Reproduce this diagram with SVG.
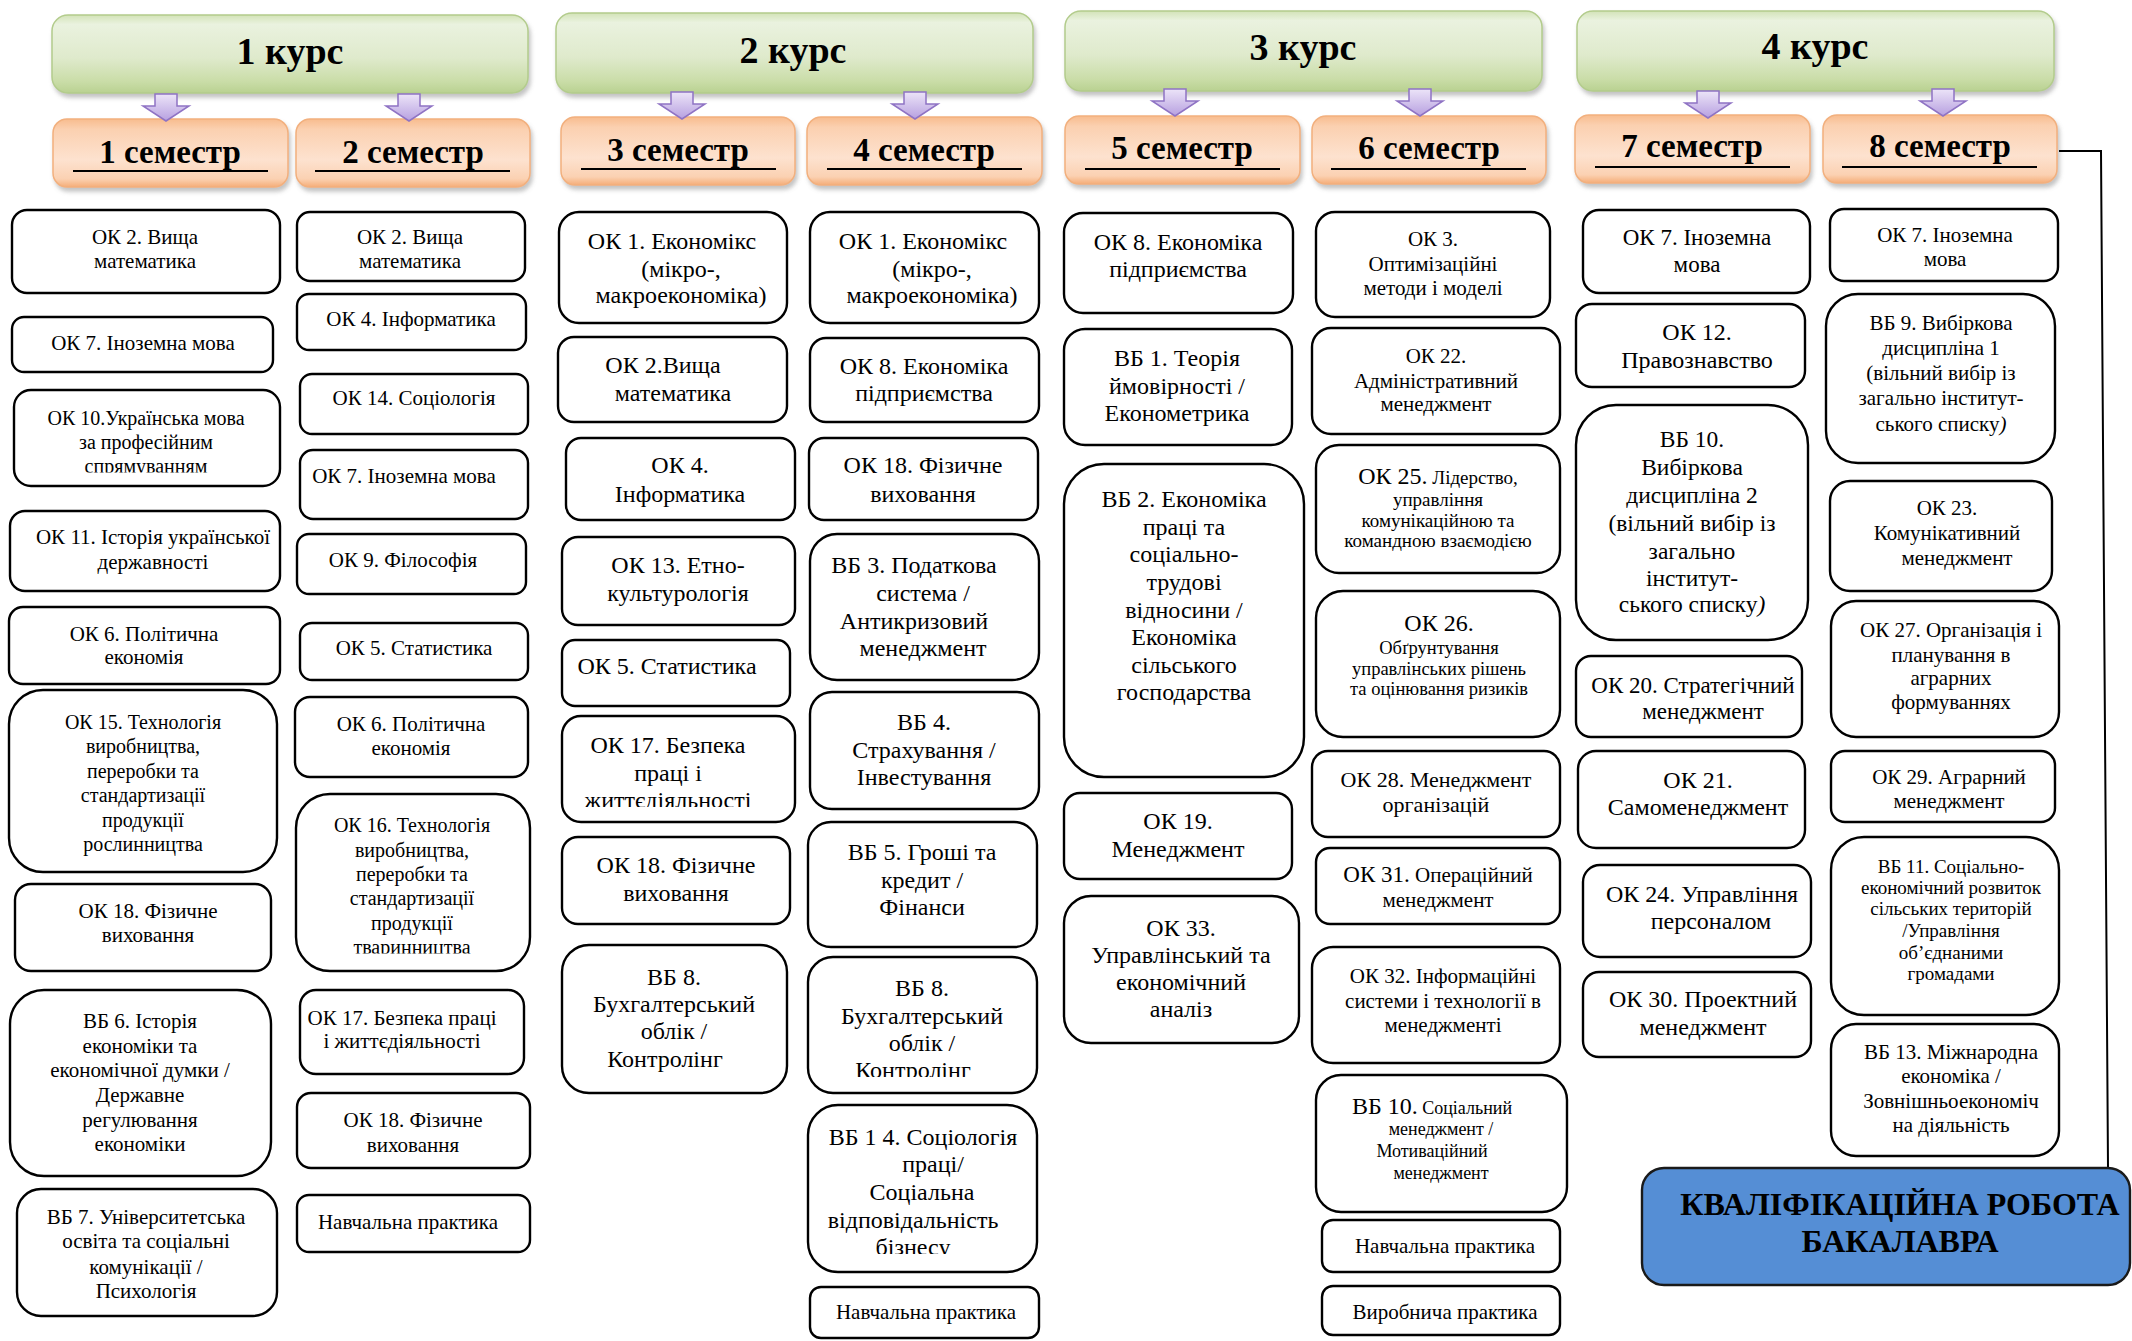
<svg xmlns="http://www.w3.org/2000/svg" width="2132" height="1341" viewBox="0 0 2132 1341">
<style>
.box{fill:#fff;stroke:#000;stroke-width:2.4}
.t{font-family:"Liberation Serif","Times New Roman",serif;fill:#000;text-anchor:middle}
.hc{font-family:"Liberation Serif","Times New Roman",serif;font-weight:bold;font-size:38px;text-anchor:middle;fill:#000}
.hs{font-family:"Liberation Serif","Times New Roman",serif;font-weight:bold;font-size:33px;text-anchor:middle;fill:#000}
.course{fill:url(#gGreen);stroke:#b3cc8c;stroke-width:1.5;filter:url(#sh)}
.sem{fill:url(#gOrange);stroke:#f2b07e;stroke-width:1.5;filter:url(#sh)}
.ul{stroke:#000;stroke-width:2}
.arr{fill:url(#gPurple);stroke:#8f73c4;stroke-width:1.5}
.con{fill:none;stroke:#000;stroke-width:2}
</style>
<defs>
<linearGradient id="gGreen" x1="0" y1="0" x2="0" y2="1">
<stop offset="0" stop-color="#d3e3b8"/><stop offset="0.12" stop-color="#eaf2df"/><stop offset="0.55" stop-color="#dfeacc"/><stop offset="0.85" stop-color="#cadda8"/><stop offset="1" stop-color="#b9d191"/>
</linearGradient>
<linearGradient id="gOrange" x1="0" y1="0" x2="0" y2="1">
<stop offset="0" stop-color="#f8bc8e"/><stop offset="0.15" stop-color="#fbd0b0"/><stop offset="0.6" stop-color="#fde2cf"/><stop offset="0.88" stop-color="#fbd1b2"/><stop offset="1" stop-color="#f5ad78"/>
</linearGradient>
<linearGradient id="gPurple" x1="0" y1="0" x2="0" y2="1">
<stop offset="0" stop-color="#ece4f8"/><stop offset="1" stop-color="#b7a0e0"/>
</linearGradient>
<filter id="sh" x="-5%" y="-10%" width="110%" height="130%">
<feDropShadow dx="2" dy="4" stdDeviation="2" flood-color="#7a7a7a" flood-opacity="0.45"/>
</filter>
<clipPath id="cl1" clipPathUnits="userSpaceOnUse"><rect x="0" y="390" width="300" height="82.5"/></clipPath>
<clipPath id="cl2" clipPathUnits="userSpaceOnUse"><rect x="280" y="794" width="260" height="159.5"/></clipPath>
<clipPath id="cl3" clipPathUnits="userSpaceOnUse"><rect x="550" y="716" width="250" height="91"/></clipPath>
<clipPath id="cl4" clipPathUnits="userSpaceOnUse"><rect x="800" y="957" width="250" height="120"/></clipPath>
<clipPath id="cl5" clipPathUnits="userSpaceOnUse"><rect x="800" y="1105" width="250" height="149"/></clipPath>
</defs>
<rect width="2132" height="1341" fill="#fff"/>

<!-- Course headers -->
<g id="course1"><rect class="course" x="52" y="15" width="476" height="78" rx="16"/><text class="hc" x="290" y="64">1 курс</text></g>
<g id="course2"><rect class="course" x="556" y="13" width="477" height="80" rx="16"/><text class="hc" x="793" y="63">2 курс</text></g>
<g id="course3"><rect class="course" x="1065" y="11" width="477" height="80" rx="16"/><text class="hc" x="1303" y="60">3 курс</text></g>
<g id="course4"><rect class="course" x="1577" y="11" width="477" height="80" rx="16"/><text class="hc" x="1815" y="59">4 курс</text></g>

<!-- Semester headers -->
<g id="sem1"><rect class="sem" x="53" y="119" width="235" height="68" rx="14"/><text class="hs" x="170" y="163">1 семестр</text><line class="ul" x1="73" y1="171" x2="268" y2="171"/></g>
<g id="sem2"><rect class="sem" x="296" y="119" width="234" height="68" rx="14"/><text class="hs" x="413" y="163">2 семестр</text><line class="ul" x1="315" y1="171" x2="510" y2="171"/></g>
<g id="sem3"><rect class="sem" x="561" y="117" width="234" height="68" rx="14"/><text class="hs" x="678" y="161">3 семестр</text><line class="ul" x1="581" y1="169" x2="776" y2="169"/></g>
<g id="sem4"><rect class="sem" x="807" y="117" width="235" height="68" rx="14"/><text class="hs" x="924" y="161">4 семестр</text><line class="ul" x1="827" y1="169" x2="1022" y2="169"/></g>
<g id="sem5"><rect class="sem" x="1065" y="116" width="235" height="68" rx="14"/><text class="hs" x="1182" y="159">5 семестр</text><line class="ul" x1="1085" y1="169" x2="1280" y2="169"/></g>
<g id="sem6"><rect class="sem" x="1312" y="116" width="234" height="68" rx="14"/><text class="hs" x="1429" y="159">6 семестр</text><line class="ul" x1="1331" y1="169" x2="1526" y2="169"/></g>
<g id="sem7"><rect class="sem" x="1575" y="115" width="235" height="68" rx="14"/><text class="hs" x="1692" y="157">7 семестр</text><line class="ul" x1="1595" y1="167" x2="1790" y2="167"/></g>
<g id="sem8"><rect class="sem" x="1823" y="115" width="234" height="68" rx="14"/><text class="hs" x="1940" y="157">8 семестр</text><line class="ul" x1="1842" y1="167" x2="2037" y2="167"/></g>

<!-- Connectors: block arrows and line to thesis -->
<g id="connectors">
<path class="arr" d="M155,94 H177 V106 H189 L166,121 L143,106 H155 Z"/>
<path class="arr" d="M398,94 H420 V106 H432 L409,121 L386,106 H398 Z"/>
<path class="arr" d="M671,92 H693 V104 H705 L682,119 L659,104 H671 Z"/>
<path class="arr" d="M904,92 H926 V104 H938 L915,119 L892,104 H904 Z"/>
<path class="arr" d="M1164,89 H1186 V101 H1198 L1175,116 L1152,101 H1164 Z"/>
<path class="arr" d="M1409,89 H1431 V101 H1443 L1420,116 L1397,101 H1409 Z"/>
<path class="arr" d="M1697,91 H1719 V103 H1731 L1708,118 L1685,103 H1697 Z"/>
<path class="arr" d="M1932,89 H1954 V101 H1966 L1943,116 L1920,101 H1932 Z"/>
<polyline class="con" points="2059,151 2101,151 2108,1168"/>
</g>

<!-- Column 1 -->
<g id="c1-ok2"><rect class="box" x="12" y="210" width="268" height="83" rx="15"/><text class="t" font-size="21"><tspan x="145" y="244">ОК 2. Вища</tspan><tspan x="145" y="268">математика</tspan></text></g>
<g id="c1-ok7"><rect class="box" x="12" y="317" width="261" height="55" rx="12"/><text class="t" font-size="21"><tspan x="143" y="350">ОК 7. Іноземна мова</tspan></text></g>
<g id="c1-ok10"><rect class="box" x="14" y="390" width="266" height="96" rx="17"/><text class="t" font-size="20" clip-path="url(#cl1)"><tspan x="146" y="425">ОК 10.Українська мова</tspan><tspan x="146" y="449">за професійним</tspan><tspan x="146" y="473">спрямуванням</tspan></text></g>
<g id="c1-ok11"><rect class="box" x="10" y="511" width="270" height="80" rx="15"/><text class="t" font-size="21"><tspan x="153" y="544">ОК 11. Історія української</tspan><tspan x="153" y="569">державності</tspan></text></g>
<g id="c1-ok6"><rect class="box" x="9" y="607" width="271" height="77" rx="14"/><text class="t" font-size="21"><tspan x="144" y="641">ОК 6. Політична</tspan><tspan x="144" y="664">економія</tspan></text></g>
<g id="c1-ok15"><rect class="box" x="9" y="690" width="268" height="182" rx="34"/><text class="t" font-size="20"><tspan x="143" y="729">ОК 15. Технологія</tspan><tspan x="143" y="753">виробництва,</tspan><tspan x="143" y="778">переробки та</tspan><tspan x="143" y="802">стандартизації</tspan><tspan x="143" y="827">продукції</tspan><tspan x="143" y="851">рослинництва</tspan></text></g>
<g id="c1-ok18"><rect class="box" x="15" y="884" width="256" height="87" rx="16"/><text class="t" font-size="21"><tspan x="148" y="918">ОК 18. Фізичне</tspan><tspan x="148" y="942">виховання</tspan></text></g>
<g id="c1-vb6"><rect class="box" x="10" y="990" width="261" height="186" rx="34"/><text class="t" font-size="21"><tspan x="140" y="1028">ВБ 6. Історія</tspan><tspan x="140" y="1053">економіки та</tspan><tspan x="140" y="1077">економічної думки /</tspan><tspan x="140" y="1102">Державне</tspan><tspan x="140" y="1127">регулювання</tspan><tspan x="140" y="1151">економіки</tspan></text></g>
<g id="c1-vb7"><rect class="box" x="17" y="1189" width="260" height="127" rx="24"/><text class="t" font-size="21"><tspan x="146" y="1224">ВБ 7. Університетська</tspan><tspan x="146" y="1248">освіта та соціальні</tspan><tspan x="146" y="1274">комунікації /</tspan><tspan x="146" y="1298">Психологія</tspan></text></g>

<!-- Column 2 -->
<g id="c2-ok2"><rect class="box" x="297" y="212" width="228" height="69" rx="13"/><text class="t" font-size="21"><tspan x="410" y="244">ОК 2. Вища</tspan><tspan x="410" y="268">математика</tspan></text></g>
<g id="c2-ok4"><rect class="box" x="297" y="294" width="229" height="56" rx="12"/><text class="t" font-size="21"><tspan x="411" y="326">ОК 4. Інформатика</tspan></text></g>
<g id="c2-ok14"><rect class="box" x="300" y="374" width="228" height="60" rx="12"/><text class="t" font-size="21"><tspan x="414" y="405">ОК 14. Соціологія</tspan></text></g>
<g id="c2-ok7"><rect class="box" x="300" y="450" width="228" height="69" rx="13"/><text class="t" font-size="21"><tspan x="404" y="483">ОК 7. Іноземна мова</tspan></text></g>
<g id="c2-ok9"><rect class="box" x="297" y="534" width="229" height="60" rx="12"/><text class="t" font-size="21"><tspan x="403" y="567">ОК 9. Філософія</tspan></text></g>
<g id="c2-ok5"><rect class="box" x="300" y="623" width="228" height="57" rx="12"/><text class="t" font-size="21"><tspan x="414" y="655">ОК 5. Статистика</tspan></text></g>
<g id="c2-ok6"><rect class="box" x="295" y="697" width="233" height="80" rx="15"/><text class="t" font-size="21"><tspan x="411" y="731">ОК 6. Політична</tspan><tspan x="411" y="755">економія</tspan></text></g>
<g id="c2-ok16"><rect class="box" x="296" y="794" width="234" height="177" rx="34"/><text class="t" font-size="20" clip-path="url(#cl2)"><tspan x="412" y="832">ОК 16. Технологія</tspan><tspan x="412" y="857">виробництва,</tspan><tspan x="412" y="881">переробки та</tspan><tspan x="412" y="905">стандартизації</tspan><tspan x="412" y="930">продукції</tspan><tspan x="412" y="954">тваринництва</tspan></text></g>
<g id="c2-ok17"><rect class="box" x="300" y="990" width="224" height="84" rx="16"/><text class="t" font-size="21"><tspan x="402" y="1025">ОК 17. Безпека праці</tspan><tspan x="402" y="1048">і життєдіяльності</tspan></text></g>
<g id="c2-ok18"><rect class="box" x="297" y="1093" width="233" height="75" rx="14"/><text class="t" font-size="21"><tspan x="413" y="1127">ОК 18. Фізичне</tspan><tspan x="413" y="1152">виховання</tspan></text></g>
<g id="c2-prac"><rect class="box" x="297" y="1195" width="233" height="57" rx="12"/><text class="t" font-size="21"><tspan x="408" y="1229">Навчальна практика</tspan></text></g>

<!-- Column 3 -->
<g id="c3-ok1"><rect class="box" x="559" y="212" width="228" height="111" rx="20"/><text class="t" font-size="24"><tspan x="672" y="249">ОК 1. Економікс</tspan><tspan x="681" y="277">(мікро-,</tspan><tspan x="681" y="303">макроекономіка)</tspan></text></g>
<g id="c3-ok2"><rect class="box" x="558" y="337" width="229" height="85" rx="16"/><text class="t" font-size="24"><tspan x="663" y="373">ОК 2.Вища</tspan><tspan x="673" y="401">математика</tspan></text></g>
<g id="c3-ok4"><rect class="box" x="566" y="438" width="229" height="82" rx="15"/><text class="t" font-size="24"><tspan x="680" y="473">ОК 4.</tspan><tspan x="680" y="502">Інформатика</tspan></text></g>
<g id="c3-ok13"><rect class="box" x="562" y="537" width="233" height="88" rx="16"/><text class="t" font-size="24"><tspan x="678" y="573">ОК 13. Етно-</tspan><tspan x="678" y="601">культурологія</tspan></text></g>
<g id="c3-ok5"><rect class="box" x="562" y="640" width="228" height="66" rx="13"/><text class="t" font-size="24"><tspan x="667" y="674">ОК 5. Статистика</tspan></text></g>
<g id="c3-ok17"><rect class="box" x="562" y="716" width="233" height="106" rx="19"/><text class="t" font-size="24" clip-path="url(#cl3)"><tspan x="668" y="753">ОК 17. Безпека</tspan><tspan x="668" y="781">праці і</tspan><tspan x="668" y="808">життєдіяльності</tspan></text></g>
<g id="c3-ok18"><rect class="box" x="562" y="837" width="228" height="87" rx="16"/><text class="t" font-size="24"><tspan x="676" y="873">ОК 18. Фізичне</tspan><tspan x="676" y="901">виховання</tspan></text></g>
<g id="c3-vb8"><rect class="box" x="562" y="945" width="225" height="148" rx="27"/><text class="t" font-size="24"><tspan x="674" y="985">ВБ 8.</tspan><tspan x="674" y="1012">Бухгалтерський</tspan><tspan x="674" y="1039">облік /</tspan><tspan x="665" y="1067">Контролінг</tspan></text></g>

<!-- Column 4 -->
<g id="c4-ok1"><rect class="box" x="810" y="212" width="229" height="111" rx="20"/><text class="t" font-size="24"><tspan x="923" y="249">ОК 1. Економікс</tspan><tspan x="932" y="277">(мікро-,</tspan><tspan x="932" y="303">макроекономіка)</tspan></text></g>
<g id="c4-ok8"><rect class="box" x="810" y="338" width="229" height="84" rx="16"/><text class="t" font-size="24"><tspan x="924" y="374">ОК 8. Економіка</tspan><tspan x="924" y="401">підприємства</tspan></text></g>
<g id="c4-ok18"><rect class="box" x="809" y="438" width="229" height="82" rx="15"/><text class="t" font-size="24"><tspan x="923" y="473">ОК 18. Фізичне</tspan><tspan x="923" y="502">виховання</tspan></text></g>
<g id="c4-vb3"><rect class="box" x="810" y="534" width="229" height="146" rx="27"/><text class="t" font-size="24"><tspan x="914" y="573">ВБ 3. Податкова</tspan><tspan x="923" y="601">система /</tspan><tspan x="914" y="629">Антикризовий</tspan><tspan x="923" y="656">менеджмент</tspan></text></g>
<g id="c4-vb4"><rect class="box" x="810" y="692" width="229" height="117" rx="22"/><text class="t" font-size="24"><tspan x="924" y="730">ВБ 4.</tspan><tspan x="924" y="758">Страхування /</tspan><tspan x="924" y="785">Інвестування</tspan></text></g>
<g id="c4-vb5"><rect class="box" x="808" y="822" width="229" height="125" rx="23"/><text class="t" font-size="24"><tspan x="922" y="860">ВБ 5. Гроші та</tspan><tspan x="922" y="888">кредит /</tspan><tspan x="922" y="915">Фінанси</tspan></text></g>
<g id="c4-vb8"><rect class="box" x="808" y="957" width="229" height="136" rx="25"/><text class="t" font-size="24" clip-path="url(#cl4)"><tspan x="922" y="996">ВБ 8.</tspan><tspan x="922" y="1024">Бухгалтерський</tspan><tspan x="922" y="1051">облік /</tspan><tspan x="913" y="1078">Контролінг</tspan></text></g>
<g id="c4-vb14"><rect class="box" x="808" y="1105" width="229" height="167" rx="30"/><text class="t" font-size="24" clip-path="url(#cl5)"><tspan x="923" y="1145">ВБ 1 4. Соціологія</tspan><tspan x="933" y="1172">праці/</tspan><tspan x="922" y="1200">Соціальна</tspan><tspan x="913" y="1228">відповідальність</tspan><tspan x="913" y="1255">бізнесу</tspan></text></g>
<g id="c4-prac"><rect class="box" x="810" y="1287" width="229" height="51" rx="11"/><text class="t" font-size="21"><tspan x="926" y="1319">Навчальна практика</tspan></text></g>

<!-- Column 5 -->
<g id="c5-ok8"><rect class="box" x="1064" y="213" width="229" height="100" rx="19"/><text class="t" font-size="24"><tspan x="1178" y="250">ОК 8. Економіка</tspan><tspan x="1178" y="277">підприємства</tspan></text></g>
<g id="c5-vb1"><rect class="box" x="1064" y="329" width="228" height="116" rx="21"/><text class="t" font-size="24"><tspan x="1177" y="366">ВБ 1. Теорія</tspan><tspan x="1177" y="394">ймовірності /</tspan><tspan x="1177" y="421">Економетрика</tspan></text></g>
<g id="c5-vb2"><rect class="box" x="1064" y="464" width="240" height="313" rx="40"/><text class="t" font-size="24"><tspan x="1184" y="507">ВБ 2. Економіка</tspan><tspan x="1184" y="535">праці та</tspan><tspan x="1184" y="562">соціально-</tspan><tspan x="1184" y="590">трудові</tspan><tspan x="1184" y="618">відносини /</tspan><tspan x="1184" y="645">Економіка</tspan><tspan x="1184" y="673">сільського</tspan><tspan x="1184" y="700">господарства</tspan></text></g>
<g id="c5-ok19"><rect class="box" x="1064" y="793" width="228" height="86" rx="16"/><text class="t" font-size="24"><tspan x="1178" y="829">ОК 19.</tspan><tspan x="1178" y="857">Менеджмент</tspan></text></g>
<g id="c5-ok33"><rect class="box" x="1064" y="896" width="235" height="147" rx="27"/><text class="t" font-size="24"><tspan x="1181" y="936">ОК 33.</tspan><tspan x="1181" y="963">Управлінський та</tspan><tspan x="1181" y="990">економічний</tspan><tspan x="1181" y="1017">аналіз</tspan></text></g>

<!-- Column 6 -->
<g id="c6-ok3"><rect class="box" x="1316" y="212" width="234" height="105" rx="19"/><text class="t" font-size="21"><tspan x="1433" y="246">ОК 3.</tspan><tspan x="1433" y="271">Оптимізаційні</tspan><tspan x="1433" y="295">методи і моделі</tspan></text></g>
<g id="c6-ok22"><rect class="box" x="1312" y="328" width="248" height="106" rx="19"/><text class="t" font-size="21"><tspan x="1436" y="363">ОК 22.</tspan><tspan x="1436" y="388">Адміністративний</tspan><tspan x="1436" y="411">менеджмент</tspan></text></g>
<g id="c6-ok25"><rect class="box" x="1316" y="445" width="244" height="128" rx="23"/><text class="t" font-size="19"><tspan x="1438" y="484"><tspan font-size="24">ОК 25.</tspan> Лідерство,</tspan><tspan x="1438" y="506">управління</tspan><tspan x="1438" y="527">комунікаційною та</tspan><tspan x="1438" y="547">командною взаємодією</tspan></text></g>
<g id="c6-ok26"><rect class="box" x="1316" y="591" width="244" height="146" rx="27"/><text class="t" font-size="18.5"><tspan x="1439" y="631" font-size="24">ОК 26.</tspan><tspan x="1439" y="654">Обґрунтування</tspan><tspan x="1439" y="675">управлінських рішень</tspan><tspan x="1439" y="695">та оцінювання ризиків</tspan></text></g>
<g id="c6-ok28"><rect class="box" x="1312" y="751" width="248" height="86" rx="16"/><text class="t" font-size="22"><tspan x="1436" y="787">ОК 28. Менеджмент</tspan><tspan x="1436" y="812">організацій</tspan></text></g>
<g id="c6-ok31"><rect class="box" x="1316" y="848" width="244" height="76" rx="14"/><text class="t" font-size="21"><tspan x="1438" y="882"><tspan font-size="23">ОК 31.</tspan> Операційний</tspan><tspan x="1438" y="907">менеджмент</tspan></text></g>
<g id="c6-ok32"><rect class="box" x="1312" y="947" width="248" height="116" rx="21"/><text class="t" font-size="21"><tspan x="1443" y="983">ОК 32. Інформаційні</tspan><tspan x="1443" y="1008">системи і технології в</tspan><tspan x="1443" y="1032">менеджменті</tspan></text></g>
<g id="c6-vb10"><rect class="box" x="1316" y="1075" width="251" height="137" rx="25"/><text class="t" font-size="18"><tspan x="1432" y="1114"><tspan font-size="24">ВБ 10.</tspan> Соціальний</tspan><tspan x="1441" y="1135">менеджмент /</tspan><tspan x="1432" y="1157">Мотиваційний</tspan><tspan x="1441" y="1179">менеджмент</tspan></text></g>
<g id="c6-prac1"><rect class="box" x="1322" y="1220" width="238" height="52" rx="11"/><text class="t" font-size="21"><tspan x="1445" y="1253">Навчальна практика</tspan></text></g>
<g id="c6-prac2"><rect class="box" x="1322" y="1286" width="238" height="49" rx="11"/><text class="t" font-size="21"><tspan x="1445" y="1319">Виробнича практика</tspan></text></g>

<!-- Column 7 -->
<g id="c7-ok7"><rect class="box" x="1583" y="210" width="227" height="83" rx="16"/><text class="t" font-size="23"><tspan x="1697" y="245">ОК 7. Іноземна</tspan><tspan x="1697" y="272">мова</tspan></text></g>
<g id="c7-ok12"><rect class="box" x="1576" y="304" width="229" height="83" rx="16"/><text class="t" font-size="24"><tspan x="1697" y="340">ОК 12.</tspan><tspan x="1697" y="368">Правознавство</tspan></text></g>
<g id="c7-vb10"><rect class="box" x="1576" y="405" width="232" height="235" rx="40"/><text class="t" font-size="23.5"><tspan x="1692" y="447">ВБ 10.</tspan><tspan x="1692" y="475">Вибіркова</tspan><tspan x="1692" y="503">дисципліна 2</tspan><tspan x="1692" y="531">(вільний вибір із</tspan><tspan x="1692" y="559">загально</tspan><tspan x="1692" y="586">інститут-</tspan><tspan x="1692" y="612">ського списку<tspan font-style="italic">)</tspan></tspan></text></g>
<g id="c7-ok20"><rect class="box" x="1576" y="656" width="226" height="81" rx="15"/><text class="t" font-size="23"><tspan x="1693" y="693">ОК 20. Стратегічний</tspan><tspan x="1703" y="719">менеджмент</tspan></text></g>
<g id="c7-ok21"><rect class="box" x="1578" y="751" width="227" height="97" rx="18"/><text class="t" font-size="24"><tspan x="1698" y="788">ОК 21.</tspan><tspan x="1698" y="815">Самоменеджмент</tspan></text></g>
<g id="c7-ok24"><rect class="box" x="1583" y="865" width="228" height="92" rx="17"/><text class="t" font-size="24"><tspan x="1702" y="902">ОК 24. Управління</tspan><tspan x="1711" y="929">персоналом</tspan></text></g>
<g id="c7-ok30"><rect class="box" x="1583" y="972" width="228" height="85" rx="16"/><text class="t" font-size="24"><tspan x="1703" y="1007">ОК 30. Проектний</tspan><tspan x="1703" y="1035">менеджмент</tspan></text></g>

<!-- Column 8 -->
<g id="c8-ok7"><rect class="box" x="1830" y="209" width="228" height="72" rx="14"/><text class="t" font-size="21"><tspan x="1945" y="242">ОК 7. Іноземна</tspan><tspan x="1945" y="266">мова</tspan></text></g>
<g id="c8-vb9"><rect class="box" x="1826" y="294" width="229" height="169" rx="32"/><text class="t" font-size="21"><tspan x="1941" y="330">ВБ 9. Вибіркова</tspan><tspan x="1941" y="355">дисципліна 1</tspan><tspan x="1941" y="380">(вільний вибір із</tspan><tspan x="1941" y="405">загально інститут-</tspan><tspan x="1941" y="431">ського списку<tspan font-style="italic">)</tspan></tspan></text></g>
<g id="c8-ok23"><rect class="box" x="1830" y="481" width="222" height="110" rx="20"/><text class="t" font-size="21"><tspan x="1947" y="515">ОК 23.</tspan><tspan x="1947" y="540">Комунікативний</tspan><tspan x="1957" y="565">менеджмент</tspan></text></g>
<g id="c8-ok27"><rect class="box" x="1831" y="601" width="228" height="136" rx="25"/><text class="t" font-size="21"><tspan x="1951" y="637">ОК 27. Організація і</tspan><tspan x="1951" y="662">планування в</tspan><tspan x="1951" y="685">аграрних</tspan><tspan x="1951" y="709">формуваннях</tspan></text></g>
<g id="c8-ok29"><rect class="box" x="1831" y="751" width="224" height="71" rx="14"/><text class="t" font-size="21"><tspan x="1949" y="784">ОК 29. Аграрний</tspan><tspan x="1949" y="808">менеджмент</tspan></text></g>
<g id="c8-vb11"><rect class="box" x="1831" y="837" width="228" height="178" rx="33"/><text class="t" font-size="19"><tspan x="1951" y="873">ВБ 11. Соціально-</tspan><tspan x="1951" y="894">економічний розвиток</tspan><tspan x="1951" y="915">сільських територій</tspan><tspan x="1951" y="937">/Управління</tspan><tspan x="1951" y="959">об’єднаними</tspan><tspan x="1951" y="980">громадами</tspan></text></g>
<g id="c8-vb13"><rect class="box" x="1831" y="1024" width="228" height="132" rx="25"/><text class="t" font-size="21"><tspan x="1951" y="1059">ВБ 13. Міжнародна</tspan><tspan x="1951" y="1083">економіка /</tspan><tspan x="1951" y="1108">Зовнішньоекономіч</tspan><tspan x="1951" y="1132">на діяльність</tspan></text></g>

<!-- Thesis -->
<g id="thesis"><rect x="1642" y="1168" width="488" height="117" rx="22" fill="#558ed5" stroke="#1a1a1a" stroke-width="2.4"/><text class="t" font-size="32" font-weight="bold"><tspan x="1900" y="1215">КВАЛІФІКАЦІЙНА РОБОТА</tspan><tspan x="1900" y="1252">БАКАЛАВРА</tspan></text></g>
</svg>
